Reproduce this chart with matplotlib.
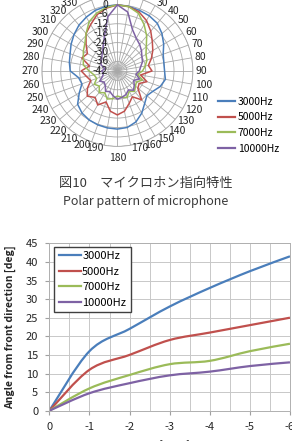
import numpy as np
import matplotlib
matplotlib.use('Agg')
from matplotlib import pyplot as plt
from matplotlib.path import Path
from matplotlib.patches import PathPatch
from matplotlib.lines import Line2D

plt.rcParams['font.family'] = ['Noto Sans CJK JP', 'DejaVu Sans']
plt.rcParams['axes.unicode_minus'] = False

# polar pattern (relative level in dB, every 10 deg, clockwise from front)
angles = list(range(0, 360, 10))
series_names = ['3000Hz', '5000Hz', '7000Hz', '10000Hz']
colors = ['#4a7ebb', '#c0504d', '#9bbb59', '#7e62a4']

level_3000 = [0, -0.3, -1, -1.5, -2.5, -5, -8, -11, -12, -12,
              -11, -13, -16, -17.5, -15, -11, -7.5, -5.5, -5, -5.2,
              -5.5, -6, -7, -9, -14, -18, -17, -12, -11, -10,
              -8, -6, -4, -2.5, -1, -0.3]
level_5000 = [0, -0.5, -2, -5, -9, -13, -16, -19, -22, -20,
              -27, -22, -26, -25, -18, -23, -20, -16, -14, -16,
              -21, -17, -20, -17, -20, -24, -22, -19, -24, -18,
              -20, -16, -11, -8, -4, -1.5]
level_7000 = [0, -0.5, -3, -8, -13, -18, -21, -22, -24, -26,
              -29, -25, -28, -27, -25, -27, -24, -25, -26, -24,
              -23, -26, -24, -27, -25, -28, -27, -24, -20, -19,
              -17, -15, -11, -6, -3, -1]
level_10000 = [0, -4, -14, -18, -20, -22, -24, -25, -27, -28,
               -30, -27, -30, -28, -26, -28, -26, -25, -24, -26,
               -28, -27, -30, -31, -29, -32, -33, -32, -34, -31,
               -30, -29, -27, -24, -18, -7]
polar_levels = [level_3000, level_5000, level_7000, level_10000]

# beam width vs. drop in sensitivity
drop_db = [0, -1, -2, -3, -4, -5, -6]
angle_3000 = [0, 16, 22, 28, 33, 37.5, 41.5]
angle_5000 = [0, 11, 15, 19, 21, 23, 25]
angle_7000 = [0, 6, 9.6, 12.5, 13.4, 16, 18]
angle_10000 = [0, 4.7, 7.4, 9.5, 10.5, 12, 13]
beam_angles = [angle_3000, angle_5000, angle_7000, angle_10000]


def smooth_path(xs, ys):
    # excel-like smoothed line (catmull-rom as cubic bezier)
    pts = np.column_stack([xs, ys]).astype(float)
    n = len(pts)
    verts = [pts[0]]
    codes = [Path.MOVETO]
    for i in range(n - 1):
        p0 = pts[i - 1] if i > 0 else pts[i]
        p1, p2 = pts[i], pts[i + 1]
        p3 = pts[i + 2] if i + 2 < n else pts[i + 1]
        verts += [p1 + (p2 - p0) / 6, p2 - (p3 - p1) / 6, p2]
        codes += [Path.CURVE4] * 3
    return Path(verts, codes)


fig = plt.figure(figsize=(2.92, 4.41), dpi=100)

# 1 polar chart
ax1 = fig.add_axes([0.1435, 0.668, 0.517, 0.3424], projection='polar')
ax1.set_theta_zero_location('N')
ax1.set_theta_direction(-1)
theta = np.deg2rad(angles + [angles[0]])
for name, lev, c in zip(series_names, polar_levels, colors):
    ax1.plot(theta, lev + [lev[0]], color=c, lw=1.1, label=name)
ax1.set_ylim(-42, 6)
ax1.set_yticks(range(-42, 7, 6))
ax1.set_yticklabels([])
ax1.set_xticks(np.deg2rad(angles))
ax1.set_xticklabels([])
ax1.grid(color='#a8a8a8', lw=0.6)
ax1.spines['polar'].set_color('#a8a8a8')
ax1.spines['polar'].set_linewidth(0.6)

# category labels placed like excel: just outside the rim, aligned by side
for a in angles:
    t = np.deg2rad(a)
    off = 2.2
    if a in (0, 180):
        ha = 'center'
        va = 'bottom' if a == 0 else 'top'
        off = 4.5
    else:
        ha = 'left' if a < 180 else 'right'
        va = 'center'
    ax1.annotate(str(a), xy=(t, 6), xytext=(off * np.sin(t), off * np.cos(t)),
                 textcoords='offset points', ha=ha, va=va, fontsize=7.5,
                 color='#262626', annotation_clip=False)
for r in range(-42, 7, 6):
    ax1.annotate(str(r), xy=(0, r), xytext=(-6.5, 0), textcoords='offset points',
                 ha='right', va='center', fontsize=7.5, color='#262626')

fig.legend(handles=[Line2D([], [], color=c, lw=1.6) for c in colors],
           labels=series_names, loc='upper left', bbox_to_anchor=(0.745, 0.781),
           frameon=False, fontsize=7.5, handlelength=1.7, handletextpad=0.25,
           labelspacing=0.55, borderpad=0, borderaxespad=0)

fig.text(0.5, 1 - 183 / 441, '図10　マイクロホン指向特性', ha='center', va='center',
         fontsize=9.5, color='#3a3a3a')
fig.text(0.5, 1 - 202 / 441, 'Polar pattern of microphone', ha='center', va='center',
         fontsize=9, color='#3a3a3a')

# 2 beam width chart
ax2 = fig.add_axes([0.169, 0.0687, 0.824, 0.3796])
for name, ang, c in zip(series_names, beam_angles, colors):
    ax2.add_patch(PathPatch(smooth_path(drop_db, ang), fill=False, edgecolor=c, lw=1.6))
ax2.set_xlim(0, -6)
ax2.set_ylim(0, 45)
ax2.set_xticks(range(0, -7, -1))
ax2.set_xticks(np.arange(-0.5, -6, -1), minor=True)
ax2.set_yticks(range(0, 46, 5))
ax2.grid(which='both', color='#c8c8c8', lw=0.7)
ax2.set_axisbelow(True)
ax2.tick_params(axis='both', which='major', labelsize=8, length=3, color='#a0a0a0',
                pad=5, labelcolor='#262626')
ax2.tick_params(axis='x', which='minor', length=0)
for s in ax2.spines.values():
    s.set_color('#b0b0b0')
    s.set_linewidth(0.7)
ax2.legend(handles=[Line2D([], [], color=c, lw=1.6) for c in colors], labels=series_names,
           loc='upper left', bbox_to_anchor=(0.021, 0.98), fontsize=8, fancybox=False,
           edgecolor='#404040', framealpha=1, handlelength=2.0, handletextpad=0.1,
           labelspacing=0.5, borderpad=0.4, borderaxespad=0)
fig.text(10 / 292, 1 - 327 / 441, 'Angle from front direction [deg]', rotation=90,
         ha='center', va='center', fontsize=7.5, fontweight='bold', color='#262626')
fig.text(0.56, 1 - 440 / 441, 'Drop in level from front [dB]', ha='center',
         va='top', fontsize=7.8, color='#262626')

fig.savefig('out.png', dpi=100)
